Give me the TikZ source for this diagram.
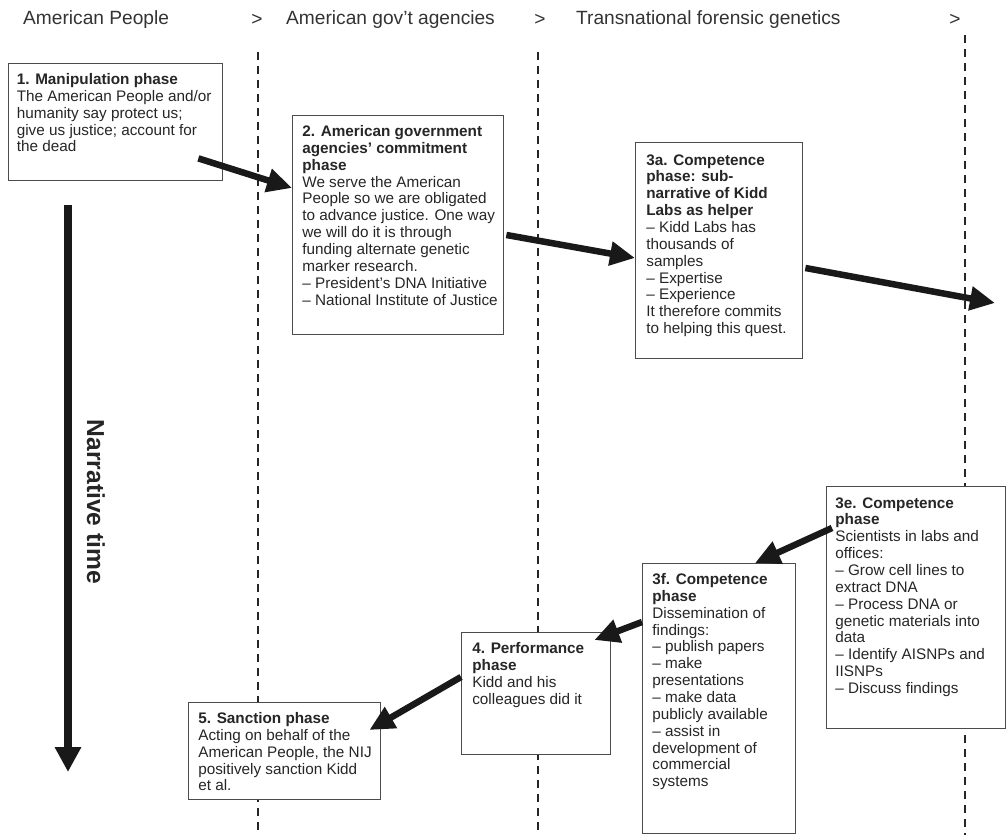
\documentclass[tikz,border=0pt]{standalone}
\usepackage{fontspec}
\setmainfont{Liberation Sans}
\usepackage{tikz}
\usetikzlibrary{arrows.meta,positioning,calc}

\tikzset{
    phase/.style={draw=black!70, line width=0.8pt, fill=white, inner sep=0pt, anchor=north west},
    phasetext/.style={anchor=north west, align=left, inner sep=0pt, text=black!85,
        font=\fontsize{8.7}{9.6}\selectfont},
    head/.style={text=black!80, font=\fontsize{10.9}{12}\selectfont},
    divider/.style={black!85, line width=1.1pt, dash pattern=on 0.16cm off 0.12cm},
    flow/.style={line width=0.13cm, black!90, -{Triangle[length=0.5cm,width=0.46cm]}},
}

\begin{document}
\begin{tikzpicture}[x=0.02cm, y=-0.02cm]
    \useasboundingbox (0,0) rectangle (1007,835);

    % Column heads
    \node[head, anchor=west] (hpeople) at (17,20) {American People};
    \node[head] (g1) at (257,20) {>};
    \node[head, anchor=west] (hgov) at (280,20) {American gov't agencies};
    \node[head] (g2) at (540,20) {>};
    \node[head, anchor=west] (hgen) at (570,20) {Transnational forensic genetics};
    \node[head] (g3) at (955,20) {>};

    % Dividers
    \draw[divider] (258,52) -- (258,835);
    \draw[divider] (538,52) -- (538,835);
    \draw[divider] (965,35) -- (965,835);

    % Narrative time
    \coordinate (t0) at (68,205);
    \coordinate (t1) at (68,772);
    \draw[line width=0.16cm, black!90, -{Triangle[length=0.5cm,width=0.5cm]}] (t0) -- (t1);
    \node[rotate=-90, text=black!85, font=\fontsize{14}{14}\selectfont\bfseries] (ntime) at (96,502) {Narrative time};

    % Phases
    \node[phase, minimum width=4.28cm, minimum height=2.34cm] (p1) at (8,63) {};
    \node[phasetext] at ([xshift=0.17cm,yshift=-0.2cm]p1.north west) {\textbf{1. Manipulation phase}\\
        The American People and/or\\humanity say protect us;\\give us justice; account for\\the dead};

    \node[phase, minimum width=4.22cm, minimum height=4.38cm] (p2) at (292,115) {};
    \node[phasetext] at ([xshift=0.2cm,yshift=-0.2cm]p2.north west) {\textbf{2. American government}\\
        \textbf{agencies' commitment}\\\textbf{phase}\\
        We serve the American\\People so we are obligated\\to advance justice. One way\\
        we will do it is through\\funding alternate genetic\\marker research.\\
        -- President's DNA Initiative\\-- National Institute of Justice};

    \node[phase, minimum width=3.34cm, minimum height=4.32cm] (p3a) at (635,142) {};
    \node[phasetext] at ([xshift=0.22cm,yshift=-0.24cm]p3a.north west) {\textbf{3a. Competence}\\
        \textbf{phase: sub-}\\\textbf{narrative of Kidd}\\\textbf{Labs as helper}\\
        -- Kidd Labs has\\thousands of\\samples\\-- Expertise\\-- Experience\\
        It therefore commits\\to helping this quest.};

    \node[phase, minimum width=3.58cm, minimum height=4.84cm] (p3e) at (826,486) {};
    \node[phasetext] at ([xshift=0.18cm,yshift=-0.22cm]p3e.north west) {\textbf{3e. Competence}\\
        \textbf{phase}\\Scientists in labs and\\offices:\\-- Grow cell lines to\\extract DNA\\
        -- Process DNA or\\genetic materials into\\data\\-- Identify AISNPs and\\IISNPs\\
        -- Discuss findings};

    \node[phase, minimum width=3.06cm, minimum height=5.4cm] (p3f) at (642,563) {};
    \node[phasetext] at ([xshift=0.2cm,yshift=-0.2cm]p3f.north west) {\textbf{3f. Competence}\\
        \textbf{phase}\\Dissemination of\\findings:\\-- publish papers\\-- make\\presentations\\
        -- make data\\publicly available\\-- assist in\\development of\\commercial\\systems};

    \node[phase, minimum width=2.98cm, minimum height=2.44cm] (p4) at (461,632) {};
    \node[phasetext] at ([xshift=0.22cm,yshift=-0.2cm]p4.north west) {\textbf{4. Performance}\\
        \textbf{phase}\\Kidd and his\\colleagues did it};

    \node[phase, minimum width=3.84cm, minimum height=1.94cm] (p5) at (188,702) {};
    \node[phasetext] at ([xshift=0.2cm,yshift=-0.2cm]p5.north west) {\textbf{5. Sanction phase}\\
        Acting on behalf of the\\American People, the NIJ\\positively sanction Kidd\\et al.};

    % Flow between phases
    \coordinate (beyond) at (995,303);
    \draw[flow] ([xshift=-0.5cm,yshift=0.46cm]p1.south east) -- ([yshift=-1.46cm]p2.north west);
    \draw[flow] ([xshift=0.04cm,yshift=-2.4cm]p2.north east) -- ([yshift=-2.32cm]p3a.north west);
    \draw[flow] ([xshift=0.04cm,yshift=-2.52cm]p3a.north east) -- (beyond);
    \draw[flow] ([xshift=0.12cm,yshift=-0.84cm]p3e.north west) -- ([xshift=2.26cm]p3f.north west);
    \draw[flow] ([yshift=-1.18cm]p3f.north west) -- ([xshift=-0.34cm,yshift=-0.16cm]p4.north east);
    \draw[flow] ([yshift=-0.9cm]p4.north west) -- ([xshift=-0.24cm,yshift=-0.56cm]p5.north east);
\end{tikzpicture}
\end{document}
